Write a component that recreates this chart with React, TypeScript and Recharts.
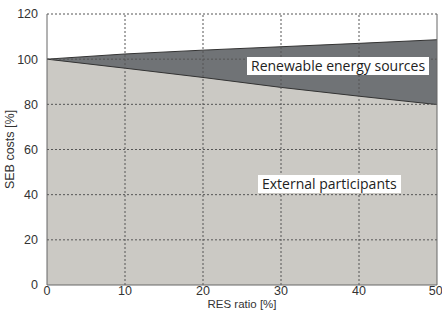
import React from 'react';
import { ComposedChart, Area, XAxis, YAxis, ReferenceLine } from 'recharts';

// RES ratio [%]
const resRatio = [0, 10, 20, 30, 40, 50];
// total SEB costs (external + renewable) [%]
const totalCosts = [100, 102.3, 104, 105.5, 107, 108.6];
// share paid by external participants [%]
const externalCosts = [100, 96, 91.9, 87.5, 83.6, 79.9];

const xTicks = [0, 10, 20, 30, 40, 50];
const yTicks = [0, 20, 40, 60, 80, 100, 120];

const data = resRatio.map((r, i) => ({ r, total: totalCosts[i], external: externalCosts[i] }));

const font = '"Liberation Sans", Arial, sans-serif';
const tickStyle = { fontFamily: font, fontSize: 12.5, fill: '#333' };

const boxStyle: React.CSSProperties = {
  position: 'absolute',
  background: '#fff',
  fontFamily: '"Open Sans", sans-serif',
  fontSize: 14,
  color: '#222',
  lineHeight: '18px',
  padding: '0 4px',
  whiteSpace: 'nowrap',
};

const gridStroke = '#555';

export default function App() {
  return (
    <div style={{ position: 'absolute', left: 0, top: 0, width: 442, height: 310, background: '#fff' }}>
      <ComposedChart width={442} height={310} data={data} margin={{ top: 14, right: 5, left: 0, bottom: 0 }} style={{ fontFamily: font }}>
        <XAxis
          dataKey="r"
          type="number"
          domain={[0, 50]}
          ticks={xTicks}
          tickLine={false}
          axisLine={{ stroke: '#666' }}
          tick={{ ...tickStyle, dy: -5 }}
          tickMargin={0}
          height={25}
          label={{ value: 'RES ratio [%]', position: 'insideBottom', offset: 2, style: { ...tickStyle, fontSize: 11.5 } }}
        />
        <YAxis
          type="number"
          domain={[0, 120]}
          ticks={yTicks}
          tickLine={false}
          axisLine={{ stroke: '#666' }}
          tick={tickStyle}
          tickMargin={3}
          width={47}
          label={{ value: 'SEB costs [%]', angle: -90, position: 'insideLeft', offset: 10, style: { ...tickStyle, textAnchor: 'middle' } }}
        />
        <Area dataKey="total" type="linear" stroke="#333" strokeWidth={1} fill="#707376" fillOpacity={1} isAnimationActive={false} />
        <Area dataKey="external" type="linear" stroke="#333" strokeWidth={1} fill="#cbc9c4" fillOpacity={1} isAnimationActive={false} />
        {yTicks.slice(1).map((v) => (
          <ReferenceLine key={'h' + v} y={v} stroke={gridStroke} strokeDasharray="2 2" />
        ))}
        {xTicks.slice(1, -1).map((v) => (
          <ReferenceLine key={'v' + v} x={v} stroke={gridStroke} strokeDasharray="2 2" />
        ))}
        <ReferenceLine x={50} stroke="#666" />
      </ComposedChart>
      <div style={{ ...boxStyle, left: 247, top: 57 }}>Renewable energy sources</div>
      <div style={{ ...boxStyle, left: 258, top: 175 }}>External participants</div>
    </div>
  );
}
